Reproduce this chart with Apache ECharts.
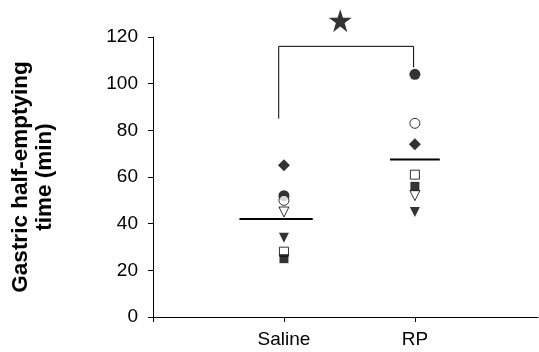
<!DOCTYPE html>
<html>
<head>
<meta charset="utf-8">
<script src="https://cdn.jsdelivr.net/npm/echarts@6/dist/echarts.min.js"></script>
<style>html,body{margin:0;padding:0;background:#fff}#c{width:539px;height:352px}</style>
</head>
<body>
<div id="c"></div>
<script>
var categories = ['Saline', 'RP'];
var groupX = [1, 2];
var filledCircle = [52, 104];
var openCircle = [50, 83];
var filledDiamond = [65, 74];
var openSquare = [28, 61];
var filledSquare = [25, 56];
var openTriDown = [45, 52];
var filledTriDown = [34, 45];
var means = [42, 67.5];
var meanHalfWidth = [0.28, 0.19];
var meanOffset = [-0.06, 0];
var bracketX = [0.96, 1.99];
var bracketY = [85, 116, 107];
var starPos = [1.43, 127];
var yTicks = [0, 20, 40, 60, 80, 100, 120];

function pts(vals) { return vals.map(function (v, i) { return [groupX[i], v]; }); }
var black = '#000';
var FONT = 'Liberation Sans, Arial, sans-serif';
function sc(name, vals, symbol, size, open, rot) {
  return {
    type: 'scatter', name: name, data: pts(vals), symbol: symbol, symbolSize: size,
    symbolRotate: rot || 0,
    itemStyle: { color: open ? '#fff' : black, borderColor: black, borderWidth: open ? 1 : 0 },
    z: 5
  };
}
var series = [
  sc('filledCircle', filledCircle, 'circle', 11, false),
  sc('openCircle', openCircle, 'circle', 10, true),
  sc('filledDiamond', filledDiamond, 'diamond', 12, false),
  sc('openSquare', openSquare, 'rect', 9, true),
  sc('filledSquare', filledSquare, 'rect', 9, false),
  sc('openTriDown', openTriDown, 'triangle', 10, true, 180),
  sc('filledTriDown', filledTriDown, 'triangle', 10, false, 180)
];
means.forEach(function (m, i) {
  var c = groupX[i] + meanOffset[i];
  series.push({
    type: 'line', data: [[c - meanHalfWidth[i], m], [c + meanHalfWidth[i], m]],
    symbol: 'none', lineStyle: { color: black, width: 2 }, z: 4, silent: true
  });
});
series.push({
  type: 'line',
  data: [[bracketX[0], bracketY[0]], [bracketX[0], bracketY[1]], [bracketX[1], bracketY[1]], [bracketX[1], bracketY[2]]],
  symbol: 'none', lineStyle: { color: black, width: 1 }, z: 3, silent: true
});
series.push({
  type: 'scatter', data: [starPos], clip: false,
  symbol: 'path://M50,0 L61.8,35.5 L100,35.5 L69.1,57.5 L80.9,95 L50,72 L19.1,95 L30.9,57.5 L0,35.5 L38.2,35.5 Z',
  symbolSize: 23, itemStyle: { color: black }, z: 6
});

var chart = echarts.init(document.getElementById('c'));
chart.setOption({
  animation: false,
  backgroundColor: '#fff',
  grid: { left: 153, right: 1, top: 37, bottom: 35, containLabel: false, outerBoundsMode: 'none' },
  xAxis: {
    type: 'value', min: 0, max: 2.94, interval: 1,
    axisLine: { lineStyle: { color: black, width: 1 } },
    axisTick: { show: true, length: 5, lineStyle: { color: black } },
    splitLine: { show: false },
    axisLabel: {
      color: black, fontFamily: FONT, fontSize: 19, margin: 13,
      showMaxLabel: false,
      formatter: function (v) { var i = groupX.indexOf(Math.round(v)); return (Math.abs(v - Math.round(v)) < 1e-6 && i >= 0) ? categories[i] : ''; }
    }
  },
  yAxis: {
    type: 'value', min: yTicks[0], max: yTicks[yTicks.length - 1], interval: 20,
    name: 'Gastric half-emptying\ntime (min)', nameLocation: 'middle', nameGap: 96,
    nameTextStyle: { color: black, fontFamily: FONT, fontSize: 22.5, fontWeight: 'bold', lineHeight: 24 },
    axisLine: { show: true, lineStyle: { color: black, width: 1 } },
    axisTick: { show: true, length: 5, lineStyle: { color: black } },
    splitLine: { show: false },
    axisLabel: { color: black, fontFamily: FONT, fontSize: 19, margin: 15 }
  },
  series: series
});
</script>
</body>
</html>
